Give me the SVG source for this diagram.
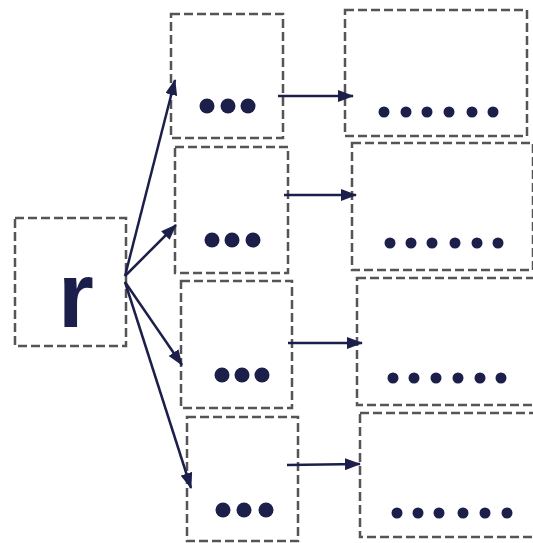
<svg xmlns="http://www.w3.org/2000/svg" width="533" height="543" viewBox="0 0 533 543">
<style>
.box{fill:#fff;stroke:#555;stroke-width:2.5;stroke-dasharray:9 4;}
.dot{fill:#1b1f4a;}
.arr{stroke:#1b1f4a;stroke-width:2.5;fill:none;marker-end:url(#ah);}
</style>
<defs>
<marker id="ah" viewBox="0 0 16 12" refX="15" refY="6" markerWidth="16" markerHeight="12" markerUnits="userSpaceOnUse" orient="auto">
<path d="M0,0 L16,6 L0,12 Z" fill="#1b1f4a"/>
</marker>
</defs>
<rect width="533" height="543" fill="#fff"/>
<g id="r">
<rect class="box" x="15" y="218" width="111" height="128"/>
<text x="76" y="327" font-family="Liberation Sans, Arial, sans-serif" font-size="92" font-weight="bold" text-anchor="middle" fill="#1b1f4a">r</text>
</g>
<g id="m1">
<rect class="box" x="171" y="14" width="112" height="124"/>
<circle class="dot" cx="207" cy="106" r="7.5"/><circle class="dot" cx="228" cy="106" r="7.5"/><circle class="dot" cx="248" cy="106" r="7.5"/>
</g>
<g id="m2">
<rect class="box" x="175" y="147" width="113" height="126"/>
<circle class="dot" cx="212" cy="240" r="7.5"/><circle class="dot" cx="232" cy="240" r="7.5"/><circle class="dot" cx="253" cy="240" r="7.5"/>
</g>
<g id="m3">
<rect class="box" x="181" y="281" width="111" height="127"/>
<circle class="dot" cx="222" cy="375" r="7.5"/><circle class="dot" cx="242" cy="375" r="7.5"/><circle class="dot" cx="262" cy="375" r="7.5"/>
</g>
<g id="m4">
<rect class="box" x="187" y="417" width="111" height="124"/>
<circle class="dot" cx="223" cy="510" r="7.5"/><circle class="dot" cx="244" cy="510" r="7.5"/><circle class="dot" cx="266" cy="510" r="7.5"/>
</g>
<g id="n1">
<rect class="box" x="345" y="10" width="182" height="126"/>
<circle class="dot" cx="384" cy="112" r="5.5"/><circle class="dot" cx="406" cy="112" r="5.5"/><circle class="dot" cx="427" cy="112" r="5.5"/><circle class="dot" cx="449" cy="112" r="5.5"/><circle class="dot" cx="472" cy="112" r="5.5"/><circle class="dot" cx="493" cy="112" r="5.5"/>
</g>
<g id="n2">
<rect class="box" x="352" y="143" width="181" height="127"/>
<circle class="dot" cx="390" cy="243" r="5.5"/><circle class="dot" cx="411" cy="243" r="5.5"/><circle class="dot" cx="432" cy="243" r="5.5"/><circle class="dot" cx="455" cy="243" r="5.5"/><circle class="dot" cx="477" cy="243" r="5.5"/><circle class="dot" cx="498" cy="243" r="5.5"/>
</g>
<g id="n3">
<rect class="box" x="357" y="278" width="180" height="127"/>
<circle class="dot" cx="393" cy="378" r="5.5"/><circle class="dot" cx="414" cy="378" r="5.5"/><circle class="dot" cx="436" cy="378" r="5.5"/><circle class="dot" cx="458" cy="378" r="5.5"/><circle class="dot" cx="480" cy="378" r="5.5"/><circle class="dot" cx="501" cy="378" r="5.5"/>
</g>
<g id="n4">
<rect class="box" x="360" y="413" width="180" height="124"/>
<circle class="dot" cx="397" cy="513" r="5.5"/><circle class="dot" cx="418" cy="513" r="5.5"/><circle class="dot" cx="439" cy="513" r="5.5"/><circle class="dot" cx="463" cy="513" r="5.5"/><circle class="dot" cx="485" cy="513" r="5.5"/><circle class="dot" cx="507" cy="513" r="5.5"/>
</g>
<g id="connectors">
<line class="arr" x1="125" y1="276" x2="175" y2="80"/>
<line class="arr" x1="125" y1="276" x2="176" y2="225"/>
<line class="arr" x1="125" y1="282" x2="182" y2="365"/>
<line class="arr" x1="125" y1="282" x2="191" y2="488"/>
<line class="arr" x1="278" y1="96" x2="353" y2="96"/>
<line class="arr" x1="284" y1="195" x2="356" y2="195"/>
<line class="arr" x1="288" y1="343" x2="362" y2="343"/>
<line class="arr" x1="287" y1="465" x2="360" y2="464"/>
</g>
</svg>
